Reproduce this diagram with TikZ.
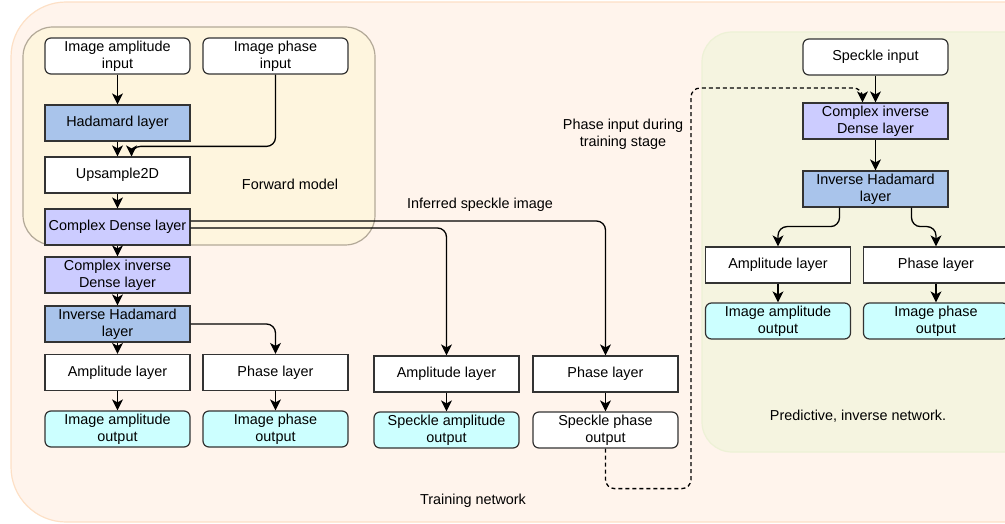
\documentclass[tikz,border=0pt]{standalone}
\usepackage{fontspec}
\setmainfont{Liberation Sans}
\usetikzlibrary{arrows.meta}
\definecolor{trainfill}{HTML}{FFF4EC}
\definecolor{traindraw}{HTML}{FDE0C6}
\definecolor{fwdfill}{HTML}{FEF5DE}
\definecolor{fwddraw}{HTML}{B3A998}
\definecolor{predfill}{HTML}{F5F4E0}
\definecolor{preddraw}{HTML}{EDF1D6}
\definecolor{hadblue}{HTML}{A9C4EB}
\definecolor{denseblue}{HTML}{CCCCFF}
\definecolor{outcyan}{HTML}{CCFFFF}
\definecolor{edge}{HTML}{333333}
\tikzset{
  box/.style={draw=edge, line width=1.2pt, minimum width=145pt, minimum height=36pt,
    inner sep=0pt, align=center, fill=white, font=\fontsize{14.4}{16.6}\selectfont},
  iobox/.style={box, rounded corners=6pt},
  outbox/.style={iobox, fill=outcyan},
  hadbox/.style={box, fill=hadblue},
  densebox/.style={box, fill=denseblue},
  label/.style={align=center, font=\fontsize{14.4}{16.6}\selectfont},
  link/.style={-{Stealth[length=11pt,width=11pt,inset=3pt]}, draw=black, line width=1.3pt},
  elbow/.style={link, rounded corners=9pt}
}

\begin{document}
\begin{tikzpicture}[x=1pt, y=-1pt]
\useasboundingbox (0,0) rectangle (1005,524);
\clip (0,0) rectangle (1005,524);
\draw[fill=trainfill, draw=traindraw, line width=1.2pt, rounded corners=55pt] (11,2) rectangle (1060,522);
\draw[fill=fwdfill, draw=fwddraw, line width=1.2pt, rounded corners=30pt] (23,27) rectangle (375,245);
\draw[fill=predfill, draw=preddraw, line width=1.2pt, rounded corners=30pt] (702,32) rectangle (1060,452);

\node[label] (fwdlbl) at (290,184) {Forward model};
\node[label] (inflbl) at (480,205) {Inferred speckle image};
\node[label] (trainlbl) at (473,501) {Training network};
\node[label] (phaselbl) at (623,134) {Phase input during\\training stage};
\node[label] (predlbl) at (858,416) {Predictive, inverse network.};

% training network
\node[iobox] (ampin) at (117.5,56) {Image amplitude\\input};
\node[iobox] (phasein) at (275.5,56) {Image phase\\input};
\node[hadbox] (had) at (117.5,123) {Hadamard layer};
\node[box] (ups) at (117.5,175) {Upsample2D};
\node[densebox] (dense) at (117.5,227) {Complex Dense layer};
\node[densebox] (cinv) at (117.5,275) {Complex inverse\\Dense layer};
\node[hadbox] (invhad) at (117.5,324) {Inverse Hadamard\\layer};
\node[box] (amp) at (117.5,372.5) {Amplitude layer};
\node[box] (phase) at (275.5,372.5) {Phase layer};
\node[outbox] (ampout) at (117.5,429) {Image amplitude\\output};
\node[outbox] (phaseout) at (275.5,429) {Image phase\\output};
\node[box] (samp) at (446.5,374) {Amplitude layer};
\node[box] (sphase) at (605.5,374) {Phase layer};
\node[outbox] (sampout) at (446.5,430) {Speckle amplitude\\output};
\node[iobox] (sphaseout) at (605.5,430) {Speckle phase\\output};

% predictive network
\node[iobox] (spin) at (875.5,57) {Speckle input};
\node[densebox] (rcinv) at (875.5,121) {Complex inverse\\Dense layer};
\node[hadbox] (rinvhad) at (875.5,189) {Inverse Hadamard\\layer};
\node[box] (ramp) at (778,265) {Amplitude layer};
\node[box] (rphase) at (936,265) {Phase layer};
\node[outbox] (rampout) at (778,321) {Image amplitude\\output};
\node[outbox] (rphaseout) at (936,321) {Image phase\\output};

\draw[link] (ampin) -- (had);
\draw[link] (had) -- (ups);
\draw[elbow] (phasein.south) |- ([xshift=14pt,yshift=10pt]ups.north) -- ([xshift=14pt]ups.north);
\draw[link] (ups) -- (dense);
\draw[link] (dense) -- (cinv);
\draw[link] (cinv) -- (invhad);
\draw[link] (invhad) -- (amp);
\draw[elbow] (invhad.east) -| (phase.north);
\draw[link] (amp) -- (ampout);
\draw[link] (phase) -- (phaseout);
\draw[elbow] ([yshift=6pt]dense.east) -| (sphase.north);
\draw[elbow] ([yshift=-1pt]dense.east) -| (samp.north);
\draw[link] (samp) -- (sampout);
\draw[link] (sphase) -- (sphaseout);
\draw[elbow, dash pattern=on 4pt off 3pt] (sphaseout.south) -- ++(0,40) -| (691,88) -| ([xshift=-13pt]rcinv.north);

\draw[link] (spin) -- (rcinv);
\draw[link] (rcinv) -- (rinvhad);
\draw[elbow] ([xshift=-36pt]rinvhad.south) -- ++(0,19) -| (ramp.north);
\draw[elbow] ([xshift=36pt]rinvhad.south) -- ++(0,19) -| (rphase.north);
\draw[link] (ramp) -- (rampout);
\draw[link] (rphase) -- (rphaseout);
\end{tikzpicture}
\end{document}
